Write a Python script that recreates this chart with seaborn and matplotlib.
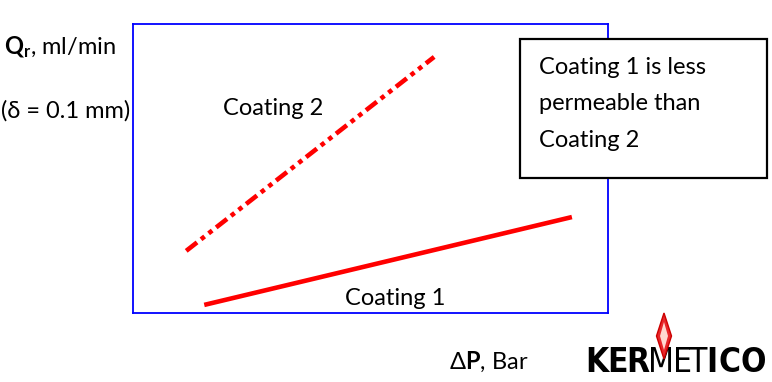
import pandas as pd
import matplotlib.pyplot as plt
import seaborn as sns
from matplotlib.patches import Rectangle, Polygon

# Datos (unidades arbitrarias, ejes sin escala)
coating1_dp = [15.0, 92.4]
coating1_q = [2.8, 33.2]
coating2_dp = [11.2, 63.4]
coating2_q = [21.5, 88.6]

W, H = 772, 382


def fx(px):
    return px / W


def fy(py):
    return 1 - py / H


sns.set_theme(style="white")
plt.rcParams['font.family'] = ['Lato', 'DejaVu Sans']
plt.rcParams['text.color'] = 'black'
plt.rcParams['mathtext.fontset'] = 'custom'
plt.rcParams['mathtext.rm'] = 'Lato'
plt.rcParams['mathtext.bf'] = 'Lato:bold'

FS = 17

fig = plt.figure(figsize=(7.72, 3.82), dpi=100)
ax = fig.add_axes([fx(133), fy(313), fx(608) - fx(133), fy(24) - fy(313)])

df1 = pd.DataFrame({'dp': coating1_dp, 'q': coating1_q})
df2 = pd.DataFrame({'dp': coating2_dp, 'q': coating2_q})
sns.lineplot(data=df1, x='dp', y='q', ax=ax, color='#ff0000', linewidth=3.3,
             solid_capstyle='butt')
sns.lineplot(data=df2, x='dp', y='q', ax=ax, color='#ff0000', linewidth=3.3,
             linestyle=(0, (3, 1.1, 1, 1.1, 1, 1.1)))

ax.set_xlim(0, 100)
ax.set_ylim(0, 100)
ax.set_xticks([])
ax.set_yticks([])
ax.set_xlabel('')
ax.set_ylabel('')
for s in ax.spines.values():
    s.set_color('#0000ff')
    s.set_linewidth(1.3)
    s.set_visible(True)

# Etiquetas de las curvas
ax.text(29.5, 70.6, 'Coating 2', fontsize=FS, ha='center', va='center', color='black')
ax.text(55.2, 5.0, 'Coating 1', fontsize=FS, ha='center', va='center', color='black')

# Etiquetas de ejes
fig.text(fx(4), fy(47), r'$\mathbf{Q_r}$, ml/min', fontsize=FS, ha='left', va='center', zorder=5)
fig.text(fx(1), fy(111), '(\u03b4 = 0.1 mm)', fontsize=FS, ha='left', va='center', zorder=5)
fig.text(fx(449), fy(362), '\u0394' + r'$\mathbf{P}$' + ', Bar', fontsize=FS, ha='left', va='center')

# Caja de texto
fig.add_artist(Rectangle((fx(520), fy(178)), fx(767) - fx(520), fy(39) - fy(178),
                         transform=fig.transFigure, facecolor='white', edgecolor='black',
                         linewidth=1.6, zorder=3))
for i, line in enumerate(['Coating 1 is less', 'permeable than', 'Coating 2']):
    fig.text(fx(539), fy(67 + 37 * i), line, fontsize=FS, ha='left', va='center', zorder=4)

# Logo: letra a letra para imitar la tipografia estrecha
logo_letters = ['K', 'E', 'R', 'M', 'E', 'T', 'I', 'C', 'O']
logo_x = [597, 617, 638, 661, 682, 698.5, 712, 729.5, 753.5]
logo_bold = [True, True, True, False, False, False, True, True, True]
for letra, x, b in zip(logo_letters, logo_x, logo_bold):
    fig.text(fx(x), fy(372), letra, fontsize=24, fontweight='bold' if b else 'light',
             family=['DejaVu Sans'], fontstretch='condensed', ha='center', va='baseline')
fig.add_artist(Polygon([(fx(664), fy(313)), (fx(656.5), fy(336)), (fx(664), fy(359)), (fx(671.5), fy(336))],
                       closed=True, transform=fig.transFigure, facecolor='#e8262a',
                       edgecolor='#cc0000', linewidth=1, zorder=4))
fig.add_artist(Polygon([(fx(664), fy(322)), (fx(660), fy(336)), (fx(664), fy(350)), (fx(668), fy(336))],
                       closed=True, transform=fig.transFigure, facecolor='#ffd8d0',
                       edgecolor='none', zorder=5))

plt.savefig('out.png', dpi=100)
